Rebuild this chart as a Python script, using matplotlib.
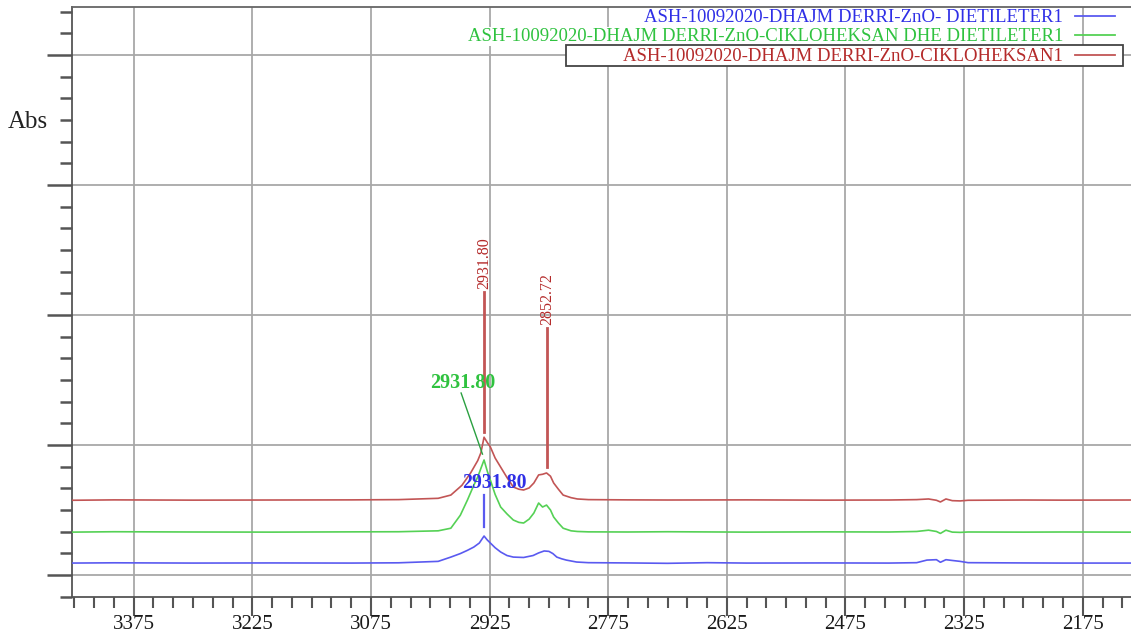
import matplotlib
matplotlib.use("Agg")
import matplotlib.pyplot as plt
from matplotlib.lines import Line2D
from matplotlib.patches import Rectangle
from matplotlib.ticker import MultipleLocator

plt.rcParams['font.family'] = ['Liberation Serif', 'DejaVu Serif']

# ---- data (wavenumber cm-1, absorbance arbitrary units) ----
red_w = [3453, 3400, 3300, 3200, 3100, 3040, 2990, 2974, 2960, 2949, 2940, 2936, 2932, 2928, 2924,
         2918, 2911, 2903, 2895, 2888, 2882, 2875, 2869, 2863, 2858, 2853, 2848, 2844, 2838, 2832,
         2822, 2814, 2800, 2750, 2700, 2600, 2500, 2420, 2385, 2370, 2360, 2355, 2348, 2340,
         2330, 2320, 2250, 2200, 2114]
red_a = [0.575, 0.578, 0.576, 0.577, 0.578, 0.580, 0.590, 0.615, 0.690, 0.785, 0.880, 0.940, 1.060,
         1.020, 0.985, 0.900, 0.830, 0.750, 0.677, 0.660, 0.654, 0.670, 0.708, 0.770, 0.775, 0.785,
         0.760, 0.708, 0.660, 0.615, 0.595, 0.585, 0.580, 0.578, 0.577, 0.578, 0.576, 0.577, 0.580,
         0.585, 0.575, 0.562, 0.585, 0.572, 0.570, 0.575, 0.577, 0.576, 0.577]

green_w = [3453, 3400, 3300, 3200, 3100, 3040, 2990, 2974, 2962, 2953, 2945, 2940, 2936, 2932, 2928,
           2924, 2918, 2911, 2903, 2895, 2888, 2882, 2875, 2869, 2863, 2858, 2853, 2848, 2844, 2838,
           2832, 2822, 2814, 2800, 2750, 2700, 2600, 2500, 2420, 2385, 2370, 2360, 2355, 2348,
           2340, 2330, 2320, 2250, 2200, 2114]
green_a = [0.330, 0.333, 0.331, 0.330, 0.332, 0.333, 0.340, 0.360, 0.460, 0.577, 0.690, 0.754, 0.820,
           0.885, 0.800, 0.730, 0.620, 0.523, 0.470, 0.423, 0.405, 0.400, 0.430, 0.477, 0.554, 0.523,
           0.538, 0.500, 0.446, 0.400, 0.360, 0.340, 0.335, 0.332, 0.331, 0.333, 0.330, 0.332, 0.331,
           0.335, 0.345, 0.335, 0.320, 0.345, 0.330, 0.328, 0.331, 0.330, 0.331, 0.330]

blue_w = [3453, 3400, 3300, 3200, 3100, 3040, 2990, 2974, 2962, 2953, 2945, 2938, 2932, 2928, 2924,
          2918, 2911, 2903, 2895, 2882, 2870, 2863, 2856, 2850, 2845, 2840, 2834, 2828, 2815, 2800,
          2750, 2700, 2650, 2600, 2500, 2420, 2385, 2372, 2360, 2355, 2348, 2340, 2330, 2320,
          2250, 2200, 2114]
blue_a = [0.092, 0.094, 0.092, 0.093, 0.092, 0.094, 0.105, 0.138, 0.165, 0.190, 0.215, 0.246, 0.300,
          0.270, 0.246, 0.210, 0.177, 0.150, 0.138, 0.135, 0.150, 0.170, 0.185, 0.182, 0.165, 0.138,
          0.125, 0.115, 0.100, 0.095, 0.093, 0.090, 0.095, 0.092, 0.093, 0.092, 0.095, 0.115, 0.118,
          0.098, 0.118, 0.112, 0.105, 0.095, 0.093, 0.092, 0.092]

legend_labels = ["ASH-10092020-DHAJM DERRI-ZnO- DIETILETER1",
                 "ASH-10092020-DHAJM DERRI-ZnO-CIKLOHEKSAN DHE DIETILETER1",
                 "ASH-10092020-DHAJM DERRI-ZnO-CIKLOHEKSAN1"]
x_ticks = [3375, 3225, 3075, 2925, 2775, 2625, 2475, 2325, 2175]
y_major = [0, 1, 2, 3, 4]

peak_main = 2931.80
peak_second = 2852.72

# ---- styling ----
c_blue, c_green, c_red = "#5a5af0", "#55d155", "#c25555"
t_blue, t_green, t_red = "#2f2fe6", "#2fc23f", "#b42a2a"

fig = plt.figure(figsize=(11.31, 6.36), dpi=100)
ax = fig.add_axes([72 / 1131, 39 / 636, 1 - 72 / 1131, (597 - 7) / 636])

ax.plot(blue_w, blue_a, color=c_blue, lw=1.2, zorder=3)
ax.plot(green_w, green_a, color=c_green, lw=1.2, zorder=3)
ax.plot(red_w, red_a, color=c_red, lw=1.2, zorder=3)

ax.set_xlim(3453, 2114)
ax.set_ylim(-0.169, 4.369)

ax.set_xticks(x_ticks)
ax.xaxis.set_minor_locator(MultipleLocator(25))
ax.set_yticks(y_major)
ax.yaxis.set_minor_locator(MultipleLocator(1 / 6))
ax.set_yticklabels([])
ax.set_xticklabels([str(v) for v in x_ticks], fontsize=15, color='#1a1a1a')

ax.grid(True, which='major', color='#a8a8a8', lw=1.3, zorder=0)
ax.spines['right'].set_visible(False)
for s in ['left', 'bottom', 'top']:
    ax.spines[s].set_color('#555555')
    ax.spines[s].set_linewidth(1.3)
ax.spines['top'].set_color('#666666')

ax.tick_params(axis='y', which='major', length=18, width=1.8, color='#555555', direction='out')
ax.tick_params(axis='y', which='minor', length=9, width=1.8, color='#555555', direction='out')
ax.tick_params(axis='x', which='major', length=14, width=1.5, color='#555555', direction='out', pad=-1)
ax.tick_params(axis='x', which='minor', length=8, width=1.5, color='#555555', direction='out')

fig.text(8 / 1131, 1 - 122 / 636, "Abs", fontsize=18, color='#222222', va='center', ha='left')

# ---- peak annotations ----
ax.plot([peak_main, peak_main], [1.10, 2.177], color=c_red, lw=2, zorder=4)
ax.text(peak_main, 2.20, f"{peak_main:.2f}", rotation=90, ha='center', va='bottom',
        color=t_red, fontsize=11.5)
ax.plot([peak_second, peak_second], [0.83, 1.90], color=c_red, lw=2, zorder=4)
ax.text(peak_second, 1.92, f"{peak_second:.2f}", rotation=90, ha='center', va='bottom',
        color=t_red, fontsize=11.5)

ax.plot([2961, 2934], [1.40, 0.93], color='#2aa040', lw=1, zorder=4)
ax.text(2959, 1.477, f"{peak_main:.2f}", ha='center', va='center', color=t_green,
        fontsize=14.5, fontweight='bold', zorder=5)

ax.plot([peak_main, peak_main], [0.37, 0.615], color=c_blue, lw=1.6, zorder=4)
ax.text(2919, 0.708, f"{peak_main:.2f}", ha='center', va='center', color=t_blue,
        fontsize=14.3, fontweight='bold', zorder=5)

# ---- legend (right aligned, handle on the right) ----
box_xy = (566 / 1131, 1 - 66 / 636)
box_w, box_h = (1123 - 566) / 1131, 21 / 636
fig.add_artist(Rectangle(box_xy, box_w, box_h, transform=fig.transFigure,
                         facecolor='white', edgecolor='none', zorder=5))
rows_y = [16, 35, 55]
colors_t = [t_blue, t_green, t_red]
colors_l = [c_blue, c_green, c_red]
for i, (lab, yy, ct, cl) in enumerate(zip(legend_labels, rows_y, colors_t, colors_l)):
    fy = 1 - yy / 636
    bb = dict(facecolor='white', edgecolor='none', pad=0.5) if i < 2 else None
    fig.text(1063 / 1131, 1 - (yy + 6) / 636, lab, color=ct, fontsize=13.5, ha='right',
             va='baseline', zorder=6, bbox=bb)
    fig.add_artist(Line2D([1075 / 1131, 1115 / 1131], [fy, fy], color=cl, lw=1.3,
                          transform=fig.transFigure, zorder=6))
fig.add_artist(Rectangle(box_xy, box_w, box_h, transform=fig.transFigure,
                         fill=False, edgecolor='#444444', lw=1.3, zorder=7))

fig.savefig("out.png", dpi=100)
